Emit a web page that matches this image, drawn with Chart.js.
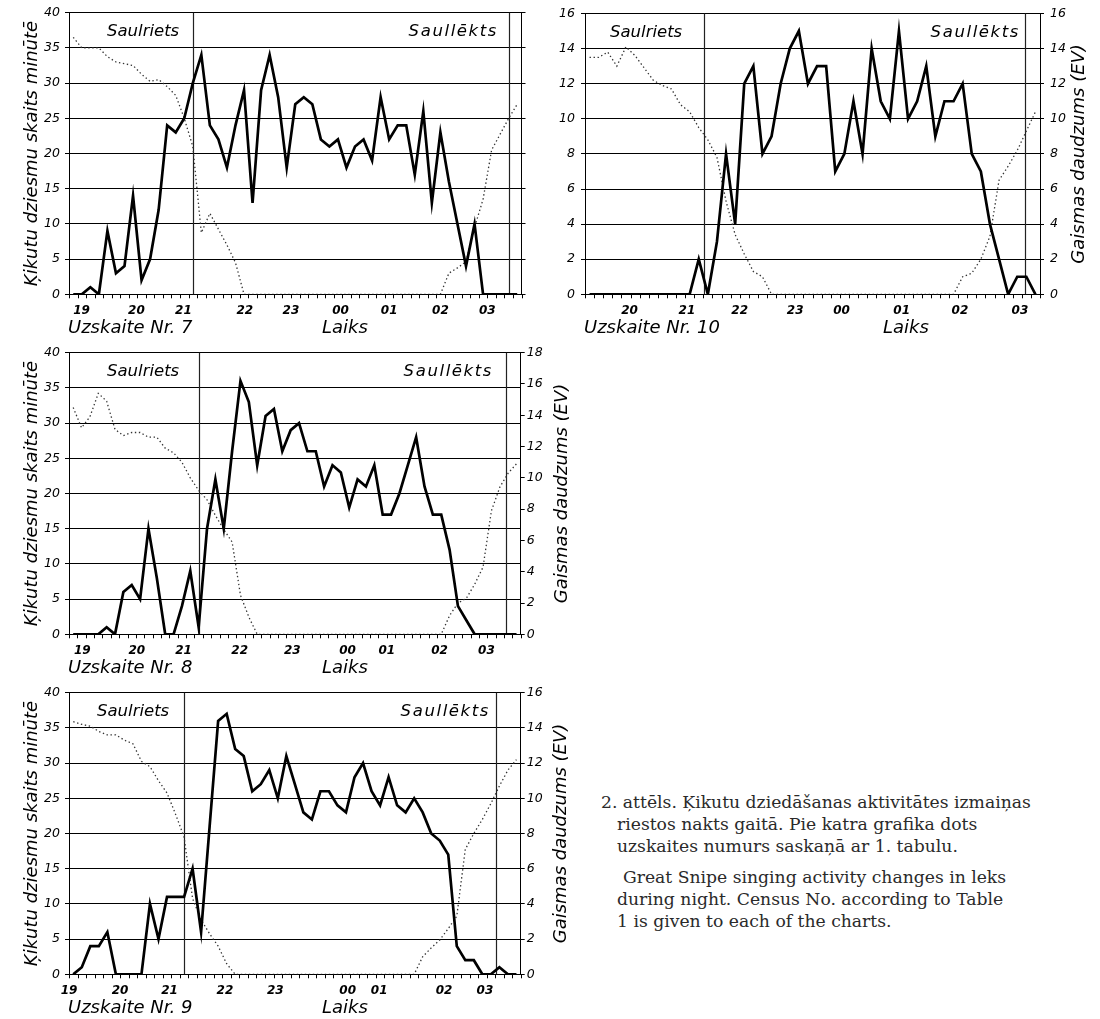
<!DOCTYPE html>
<html lang="lv">
<head>
<meta charset="utf-8">
<title>Ķikutu dziedāšanas aktivitāte</title>
<script src="https://cdn.jsdelivr.net/npm/chart.js@4.4.1/dist/chart.umd.min.js"></script>
<style>
  html, body { margin: 0; padding: 0; background: #fff; }
  body { position: relative; width: 1100px; height: 1019px; overflow: hidden; }
  canvas { position: absolute; }
  .cap { position: absolute; font-family: "DejaVu Serif", serif; font-size: 17.2px; line-height: 20px; color: #2a2a2a; white-space: nowrap; }
  .hr { position: absolute; z-index: 5; font: italic bold 12px "DejaVu Sans"; line-height: 14px; color: #000; width: 30px; text-align: center; }
</style>
</head>
<body>
<canvas id="c7" width="545" height="340" style="left:0;top:0"></canvas>
<canvas id="c10" width="555" height="340" style="left:545px;top:0"></canvas>
<canvas id="c8" width="600" height="340" style="left:0;top:340px"></canvas>
<canvas id="c9" width="600" height="339" style="left:0;top:680px"></canvas>

<div class="cap" style="left:601px;top:792px">2. attēls. Ķikutu dziedāšanas aktivitātes izmaiņas</div>
<div class="cap" style="left:617px;top:814px">riestos nakts gaitā. Pie katra grafika dots</div>
<div class="cap" style="left:617px;top:836px">uzskaites numurs saskaņā ar 1. tabulu.</div>
<div class="cap" style="left:623px;top:867px">Great Snipe singing activity changes in leks</div>
<div class="cap" style="left:617px;top:889px">during night. Census No. according to Table</div>
<div class="cap" style="left:617px;top:911px">1 is given to each of the charts.</div>

<script>
// ---- Texts ----
const songsTitle = 'Ķikutu dziesmu skaits minūtē';
const lightTitle = 'Gaismas daudzums (EV)';
const timeTitle = 'Laiks';
const sunsetWord = 'Saulriets';
const sunriseWord = 'Saullēkts';

// ---- Hour tick labels and their place on the sample axis ----
const hours = ['19', '20', '21', '22', '23', '00', '01', '02', '03'];
const hoursNr10 = ['20', '21', '22', '23', '00', '01', '02', '03'];
const hourPosNr7 = [0.98, 7.4, 12.9, 20.1, 25.5, 31.3, 37, 43, 48.5];
const hourPosNr10 = [4.4, 10.7, 16.5, 22.6, 27.7, 34.3, 40.7, 47.3];
const hourPosNr8 = [1.1, 7.6, 13.2, 19.9, 26.2, 32.8, 37.5, 43.8, 49.4];
const hourPosNr9 = [-0.5, 5.5, 11.3, 17.8, 23.7, 32.2, 35.9, 43.5, 48.3];

// ---- Songs per minute (solid line) ----
const songsNr7 = [0,0,1,0,9,3,4,14,2,5,12,24,23,25,30,34,24,22,18,24,29,13,29,34,28,18,27,28,27,22,21,22,18,21,22,19,28,22,24,24,17,26,13,23,16,10,4,10,0,0,0,0,0];
const songsNr10 = [0,0,0,0,0,0,0,0,0,0,0,0,2,0,3,8,4,12,13,8,9,12,14,15,12,13,13,7,8,11,8,14,11,10,15,10,11,13,9,11,11,12,8,7,4,2,0,1,1,0];
const songsNr8 = [0,0,0,0,1,0,6,7,5,15,8,0,0,4,9,1,15,22,15,26,36,33,24,31,32,26,29,30,26,26,21,24,23,18,22,21,24,17,17,20,24,28,21,17,17,12,4,2,0,0,0,0,0,0];
const songsNr9 = [0,1,4,4,6,0,0,0,0,10,5,11,11,11,15,6,21,36,37,32,31,26,27,29,25,31,27,23,22,26,26,24,23,28,30,26,24,28,24,23,25,23,20,19,17,4,2,2,0,0,1,0,0];

// ---- Light, EV (dotted line, right axis) ----
const lightNr7 = [14.6,14.0,14.0,14.0,13.5,13.2,13.1,13.0,12.5,12.1,12.2,11.8,11.3,10.0,8.4,3.5,4.6,3.7,2.8,1.8,0,0,0,0,0,0,0,0,0,0,0,0,0,0,0,0,0,0,0,0,0,0,0,0,1.2,1.5,1.85,3.8,5.4,8.2,9.1,10.0,10.8];
const lightNr10 = [13.5,13.5,13.8,13.0,14.1,13.6,12.9,12.2,11.9,11.7,10.8,10.4,9.5,8.8,7.8,5.3,3.4,2.3,1.3,1.0,0,0,0,0,0,0,0,0,0,0,0,0,0,0,0,0,0,0,0,0,0,1.0,1.2,2.0,3.3,6.5,7.3,8.2,9.3,10.4];
const lightNr8 = [14.5,13.2,13.9,15.4,14.9,13.1,12.7,12.9,12.9,12.6,12.6,11.9,11.6,11.0,10.0,9.2,8.6,7.6,6.7,5.9,2.5,1.1,0,0,0,0,0,0,0,0,0,0,0,0,0,0,0,0,0,0,0,0,0,0,0,1.2,2.0,2.3,3.2,4.3,7.9,9.4,10.3,10.9];
const lightNr9 = [14.35,14.2,14.1,13.8,13.6,13.6,13.3,13.1,12.1,11.8,11.0,10.3,9.1,7.8,4.3,3.1,2.3,1.6,0.6,0,0,0,0,0,0,0,0,0,0,0,0,0,0,0,0,0,0,0,0,0,0,1.0,1.5,1.95,2.6,3.3,7.1,8.0,8.8,9.7,10.7,11.6,12.2];

// ---- Sunset and sunrise (sample axis) ----
const sunNr7 = [14, 51];
const sunNr10 = [12.6, 47.9];
const sunNr8 = [15.05, 51.7];
const sunNr9 = [12.95, 49.6];

const fontSun = 'italic 16.5px "DejaVu Sans"';
const fontTitle = 'italic 18px "DejaVu Sans"';

// Hour labels are placed as page text right under each time axis,
// at the pixel the chart's own x scale gives for each hour
function placeHourLabels(chart, canvas, hoursList, positions) {
  const { chartArea: a, scales: { x } } = chart;
  const left = canvas.offsetLeft, top = canvas.offsetTop;
  positions.forEach((v, k) => {
    const d = document.createElement('div');
    d.className = 'hr';
    d.textContent = hoursList[k];
    d.style.left = (left + x.getPixelForValue(v) - 15) + 'px';
    d.style.top = (top + a.bottom + 9) + 'px';
    document.body.appendChild(d);
  });
}

// Sample tick marks, sun lines, in-plot words and axis titles
const panelDecor = {
  id: 'panelDecor',
  beforeDatasetsDraw(chart, args, o) {
    const { ctx, chartArea: a, scales: { x } } = chart;
    ctx.save();
    ctx.strokeStyle = '#222';
    ctx.lineWidth = 1.2;
    for (const t of o.sun) {
      const px = Math.round(x.getPixelForValue(t)) + 0.5;
      ctx.beginPath();
      ctx.moveTo(px, a.top);
      ctx.lineTo(px, a.bottom);
      ctx.stroke();
    }
    // one tick mark between neighbouring samples
    ctx.strokeStyle = '#000';
    ctx.lineWidth = 1;
    const n = chart.data.datasets[0].data.length;
    for (let i = 0; i <= n; i++) {
      const px = Math.round(x.getPixelForValue(i - 0.5)) + 0.5;
      ctx.beginPath();
      ctx.moveTo(px, a.bottom);
      ctx.lineTo(px, a.bottom + 4);
      ctx.stroke();
    }
    ctx.restore();
  },
  afterDraw(chart, args, o) {
    const { ctx, chartArea: a } = chart;
    ctx.save();
    ctx.fillStyle = '#000';
    ctx.textBaseline = 'alphabetic';

    ctx.font = fontSun;
    ctx.textAlign = 'left';
    ctx.fillText(sunsetWord, o.setX, a.top + 23.5);
    ctx.letterSpacing = '1.6px';
    ctx.textAlign = 'right';
    ctx.fillText(sunriseWord, o.riseRight, a.top + 23.5);
    ctx.letterSpacing = '0px';

    ctx.font = fontTitle;
    ctx.textAlign = 'left';
    ctx.fillText(o.census, a.left - 1, a.bottom + 39);
    ctx.fillText(timeTitle, o.laiksX, a.bottom + 39);

    const midY = (a.top + a.bottom) / 2;
    const vText = (text, cx) => {
      ctx.save();
      ctx.translate(cx, midY);
      ctx.rotate(-Math.PI / 2);
      ctx.textAlign = 'center';
      ctx.textBaseline = 'middle';
      ctx.fillText(text, 0, 0);
      ctx.restore();
    };
    if (o.leftTitleX) vText(songsTitle, o.leftTitleX);
    if (o.rightTitleX) vText(lightTitle, o.rightTitleX);
    ctx.restore();
  }
};

const tickFontY = { family: '"DejaVu Sans"', size: 12.5, style: 'italic' };

function drawPanel(canvasId, p) {
  const n = p.songs.length;
  const canvas = document.getElementById(canvasId);
  const chart = new Chart(canvas, {
    type: 'line',
    data: {
      datasets: [
        {
          label: songsTitle,
          data: p.songs.map((v, i) => ({ x: i, y: v })),
          yAxisID: 'y',
          borderColor: '#000',
          borderWidth: 2.7,
          pointRadius: 0,
          tension: 0,
          fill: false
        },
        {
          label: lightTitle,
          data: p.light.map((v, i) => ({ x: i, y: v })),
          yAxisID: 'y2',
          borderColor: '#333',
          borderWidth: 1.3,
          borderDash: [1.4, 2.6],
          pointRadius: 0,
          tension: 0,
          fill: false
        }
      ]
    },
    options: {
      responsive: false,
      animation: false,
      devicePixelRatio: 1,
      layout: { padding: { top: 12.7, left: 0, right: 0, bottom: 0 } },
      plugins: { legend: { display: false }, tooltip: { enabled: false }, panelDecor: p.decor },
      scales: {
        x: {
          type: 'linear', position: 'bottom', bounds: 'data', min: -0.5, max: n - 0.5,
          afterFit: s => { s.height = p.xH; },
          ticks: { display: false },
          grid: { drawOnChartArea: false, drawTicks: false },
          border: { display: true, color: '#000', width: 1 }
        },
        y: {
          position: 'left', min: 0, max: p.yMax,
          afterFit: s => { s.width = p.yW; },
          ticks: { stepSize: p.yStep, padding: p.yPad, color: '#000', font: tickFontY },
          grid: { color: '#000', lineWidth: 1, tickLength: 4 },
          border: { color: '#000', width: 1 }
        },
        y2: {
          position: 'right', min: 0, max: p.lMax,
          afterFit: s => { s.width = p.y2W; },
          ticks: { display: p.lLabels, stepSize: 2, padding: p.y2Pad, color: '#000', font: tickFontY },
          grid: { drawOnChartArea: false, color: '#000', tickLength: 4 },
          border: { color: '#000', width: 1 }
        }
      }
    },
    plugins: [panelDecor]
  });
  placeHourLabels(chart, canvas, p.hours, p.hourPos);
  return chart;
}

drawPanel('c7', {
  songs: songsNr7, light: lightNr7, hours: hours, hourPos: hourPosNr7,
  yMax: 40, yStep: 5, lMax: 16, lLabels: false,
  yW: 69, yPad: 5, y2W: 23.5, y2Pad: 4, xH: 45.7,
  decor: { sun: sunNr7, setX: 107, riseRight: 498, census: 'Uzskaite Nr. 7', laiksX: 322, leftTitleX: 32, rightTitleX: 0 }
});

drawPanel('c10', {
  songs: songsNr10, light: lightNr10, hours: hoursNr10, hourPos: hourPosNr10,
  yMax: 16, yStep: 2, lMax: 16, lLabels: true,
  yW: 40, yPad: 6, y2W: 60, y2Pad: 6, xH: 45.7,
  decor: { sun: sunNr10, setX: 65, riseRight: 475, census: 'Uzskaite Nr. 10', laiksX: 338, leftTitleX: 0, rightTitleX: 534 }
});

drawPanel('c8', {
  songs: songsNr8, light: lightNr8, hours: hours, hourPos: hourPosNr8,
  yMax: 40, yStep: 5, lMax: 18, lLabels: true,
  yW: 69, yPad: 5, y2W: 79.3, y2Pad: 2, xH: 45.7,
  decor: { sun: sunNr8, setX: 107, riseRight: 493, census: 'Uzskaite Nr. 8', laiksX: 322, leftTitleX: 32, rightTitleX: 562 }
});

drawPanel('c9', {
  songs: songsNr9, light: lightNr9, hours: hours, hourPos: hourPosNr9,
  yMax: 40, yStep: 5, lMax: 16, lLabels: true,
  yW: 69, yPad: 5, y2W: 79.3, y2Pad: 2, xH: 44.7,
  decor: { sun: sunNr9, setX: 97, riseRight: 490, census: 'Uzskaite Nr. 9', laiksX: 322, leftTitleX: 32, rightTitleX: 561 }
});
</script>
</body>
</html>
